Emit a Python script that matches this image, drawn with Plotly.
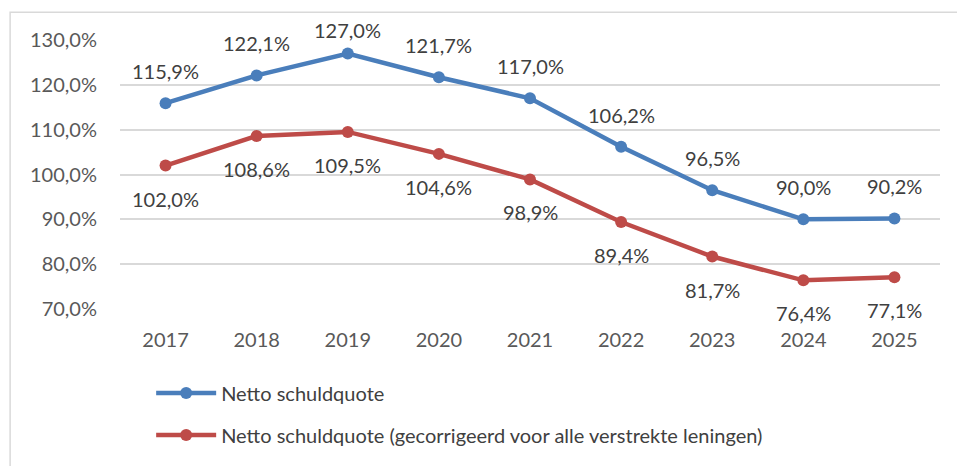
import plotly.graph_objects as go

years = [2017, 2018, 2019, 2020, 2021, 2022, 2023, 2024, 2025]
netto = [115.9, 122.1, 127.0, 121.7, 117.0, 106.2, 96.5, 90.0, 90.2]
netto_gecorr = [102.0, 108.6, 109.5, 104.6, 98.9, 89.4, 81.7, 76.4, 77.1]
y_ticks = [70, 80, 90, 100, 110, 120, 130]

name_a = "Netto schuldquote"
name_b = "Netto schuldquote (gecorrigeerd voor alle verstrekte leningen)"

BLUE = "#4A7EBB"
RED = "#BE4B48"
TEXT = "#595959"
LABEL = "#404040"
FONT = "Lato"
FS = 20

Y_MIN, Y_MAX = 70, 130
MARGIN_T, MARGIN_B, HEIGHT = 40, 154, 466
PX_PER_UNIT = (HEIGHT - MARGIN_T - MARGIN_B) / (Y_MAX - Y_MIN)


def pct(v):
    return f"{v:.1f}".replace(".", ",") + "%"


def above_shift(v, wanted=32, headroom=10):
    # keep labels above the line from running into the top of the chart
    return min(wanted, headroom + (Y_MAX - v) * PX_PER_UNIT)


fig = go.Figure()
fig.add_trace(go.Scatter(
    x=years, y=netto, mode="lines+markers", name=name_a, legendgroup="a",
    line=dict(color=BLUE, width=4.5), marker=dict(size=12, color=BLUE),
))
fig.add_trace(go.Scatter(
    x=years, y=netto_gecorr, mode="lines+markers", name=name_b, legendgroup="b",
    line=dict(color=RED, width=4.5), marker=dict(size=12, color=RED),
))

annotations = []
for x, v in zip(years, netto):
    annotations.append(dict(x=x, y=v, xref="x", yref="y", text=pct(v), showarrow=False,
                            yshift=above_shift(v),
                            font=dict(family=FONT, size=FS, color=LABEL)))
for x, v in zip(years, netto_gecorr):
    annotations.append(dict(x=x, y=v, xref="x", yref="y", text=pct(v), showarrow=False,
                            yshift=-33, font=dict(family=FONT, size=FS, color=LABEL)))

fig.update_layout(
    width=957, height=HEIGHT,
    margin=dict(l=120, r=17, t=MARGIN_T, b=MARGIN_B),
    paper_bgcolor="white", plot_bgcolor="white",
    font=dict(family=FONT, size=FS, color=TEXT),
    showlegend=True,
    legend=dict(orientation="v", x=0.038, xanchor="left", y=-0.24, yanchor="top",
                itemwidth=60, tracegroupgap=13,
                font=dict(family=FONT, size=FS, color=LABEL),
                bgcolor="rgba(0,0,0,0)"),
    annotations=annotations,
    shapes=[dict(type="rect", xref="paper", yref="paper",
                 x0=-0.134, y0=-1.0, x1=1.2, y1=1.103,
                 line=dict(color="#D9D9D9", width=1.5), fillcolor="rgba(0,0,0,0)",
                 layer="below")],
)
fig.update_xaxes(range=[2016.5, 2025.5], tickvals=years, ticktext=[str(y) for y in years],
                 showgrid=False, showline=False, zeroline=False,
                 ticks="outside", ticklen=13, tickcolor="rgba(0,0,0,0)",
                 tickfont=dict(family=FONT, size=FS, color=TEXT))
fig.update_yaxes(range=[Y_MIN, Y_MAX], tickvals=y_ticks, ticktext=[pct(v) for v in y_ticks],
                 showgrid=True, gridcolor="#D9D9D9", gridwidth=1.5, zeroline=False,
                 showline=False, ticks="outside", ticklen=18, tickcolor="rgba(0,0,0,0)",
                 tickfont=dict(family=FONT, size=FS, color=TEXT))

fig.write_html("out.html")
